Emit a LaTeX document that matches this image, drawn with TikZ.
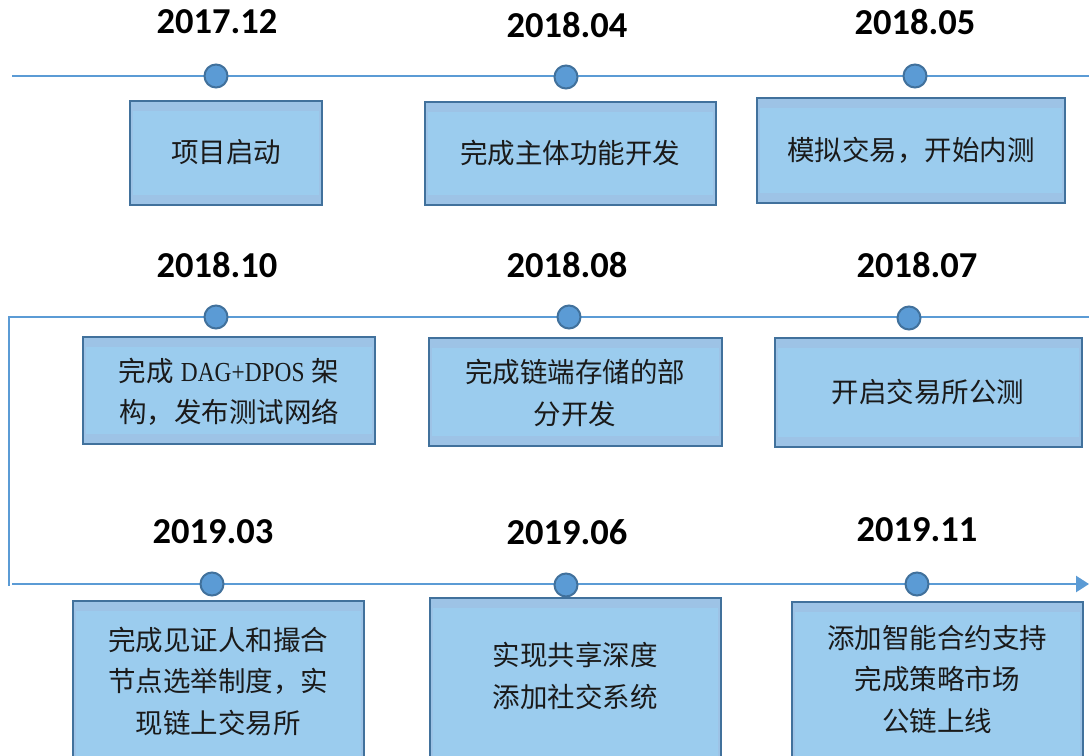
\documentclass[tikz,border=0pt]{standalone}
\usepackage{fontspec}
\usetikzlibrary{calc,arrows.meta}
\newfontfamily\cjk{Noto Sans CJK SC}
\newfontfamily\latn[FakeStretch=0.85]{Liberation Serif}
\newfontfamily\datefont{Carlito}
\definecolor{linec}{RGB}{91,155,213}
\definecolor{borderc}{RGB}{65,113,156}
\definecolor{bandc}{RGB}{157,195,230}
\definecolor{innerc}{RGB}{155,204,238}
\definecolor{txtc}{RGB}{26,26,26}
\newcommand\tlbox[2]{%
  \fill[bandc] (#1) rectangle (#2);
  \fill[innerc] ($(#1)+(3,10)$) rectangle ($(#2)+(-3,-10)$);
  \draw[borderc,line width=2.5pt] (#1) rectangle (#2);
}
\begin{document}
\begin{tikzpicture}[x=1pt,y=-1pt,
  tline/.style={linec,line width=2.5pt},
  dot/.style={circle,fill=linec,draw=borderc,line width=2pt,minimum size=23pt,inner sep=0pt},
  datet/.style={font=\datefont\bfseries\fontsize{36.5}{42}\selectfont,text=black,inner sep=0pt,anchor=center},
  boxt/.style={font=\cjk\fontsize{27.5}{41.5}\selectfont,text=txtc,align=center,inner sep=0pt,anchor=center}]
\useasboundingbox (0,0) rectangle (1089,755);
\clip (0,0) rectangle (1089,755);
\fill[white] (0,0) rectangle (1089,755);
% timeline lines
\coordinate (l1s) at (12,76); \coordinate (l1e) at (1089,76);
\coordinate (l2e) at (1089,317); \coordinate (l2c) at (9,317); \coordinate (l2d) at (9,586);
\coordinate (l3s) at (12,584); \coordinate (l3e) at (1089,584);
\draw[tline] (l1s) -- (l1e);
\draw[tline] (l2e) -- (l2c) -- (l2d);
\draw[tline,-{Triangle[length=13pt,width=16pt]}] (l3s) -- (l3e);
% dots
\node[dot] (d1) at (216,76) {};
\node[dot] (d2) at (566,77) {};
\node[dot] (d3) at (915,76) {};
\node[dot] (d4) at (216,317) {};
\node[dot] (d5) at (569,317) {};
\node[dot] (d6) at (909,318) {};
\node[dot] (d7) at (212,584) {};
\node[dot] (d8) at (566,585) {};
\node[dot] (d9) at (917,584) {};
% dates
\node[datet] (y1) at (217,22) {2017.12};
\node[datet] (y2) at (567,25) {2018.04};
\node[datet] (y3) at (915,22) {2018.05};
\node[datet] (y4) at (217,265) {2018.10};
\node[datet] (y5) at (567,265) {2018.08};
\node[datet] (y6) at (917,265) {2018.07};
\node[datet] (y7) at (213,532) {2019.03};
\node[datet] (y8) at (567,532) {2019.06};
\node[datet] (y9) at (917,530) {2019.11};
% boxes
\tlbox{130,101}{322,205}
\tlbox{425,102}{716,205}
\tlbox{757,98}{1065,203}
\tlbox{83,337}{375,444}
\tlbox{429,338}{722,446}
\tlbox{775,338}{1082,447}
\tlbox{73,601}{364,775}
\tlbox{430,598}{721,775}
\tlbox{792,602}{1083,775}
% box texts
\node[boxt] (b1) at (226,152) {项目启动};
\node[boxt] (b2) at (570,153) {完成主体功能开发};
\node[boxt] (b3) at (911,150) {模拟交易，开始内测};
\node[boxt] (b4) at (229,392) {完成\hspace{7pt}{\latn DAG+DPOS}\hspace{7pt}架\\构，发布测试网络};
\node[boxt] (b5) at (575,393) {完成链端存储的部\\分开发};
\node[boxt] (b6) at (928,392) {开启交易所公测};
\node[boxt] (b7) at (218,681) {完成见证人和撮合\\节点选举制度，实\\现链上交易所};
\node[boxt] (b8) at (575,676) {实现共享深度\\添加社交系统};
\node[boxt] (b9) at (937,679) {添加智能合约支持\\完成策略市场\\公链上线};
\end{tikzpicture}
\end{document}
